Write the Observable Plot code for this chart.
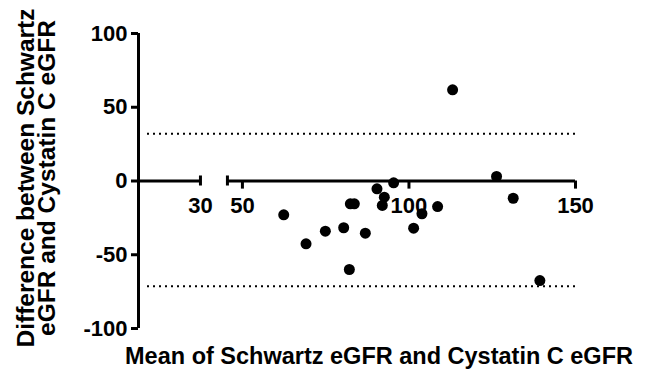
<!DOCTYPE html>
<html><head><meta charset="utf-8">
<script src="https://cdn.jsdelivr.net/npm/d3@7"></script>
<script src="https://cdn.jsdelivr.net/npm/@observablehq/plot@0.6"></script>
<style>body{margin:0;background:#fff}</style>
</head><body><div id="chart"></div>
<script>
const meanValues = [62.4, 69.1, 74.9, 80.4, 82.4, 83.6, 82.1, 86.9, 90.4, 92.6, 92.0, 95.4, 101.4, 103.9, 108.6, 113.1, 126.3, 131.3, 139.3];
const diffValues = [-22.9, -42.6, -34.0, -31.7, -15.5, -15.5, -60.0, -35.4, -5.3, -11.0, -16.6, -1.2, -32.0, -22.2, -17.3, 61.8, 3.1, -11.7, -67.5];
const limitsOfAgreement = [32.0, -71.3];
const yTicks = [-100, -50, 0, 50, 100];
const xTicks = [30, 50, 100, 150];
const xSegments = [[0, 30], [45.5, 150]];
const xTitle = "Mean of Schwartz eGFR and Cystatin C eGFR";
const yTitle = "Difference between Schwartz\neGFR and Cystatin C eGFR";

// broken x axis: the left segment [0, 30] is compressed into a short stub
const leftStart = 18.8, leftEnd = 37.4;
const brokenX = v => v <= 30 ? leftStart + v * (leftEnd - leftStart) / 30 : v;

const points = meanValues.map((m, i) => ({mean: m, diff: diffValues[i]}));
const segments = xSegments.map(([a, b]) => ({x1: a, x2: b}));
const caps = [xSegments[0][1], xSegments[1][0]];

const chart = Plot.plot({
  width: 661, height: 378,
  marginLeft: 138, marginRight: 86, marginTop: 33, marginBottom: 50,
  style: {fontFamily: "'Liberation Sans', Arial, sans-serif", fontWeight: "bold", color: "black", background: "white"},
  x: {axis: null, transform: brokenX, domain: [leftStart, 150]},
  y: {domain: [-100, 100]},
  marks: [
    Plot.ruleY(limitsOfAgreement, {x1: 0, x2: 150, insetLeft: 9, stroke: "black", strokeWidth: 2, strokeDasharray: "2,4"}),
    Plot.ruleX([0], {y1: -100, y2: 100, strokeWidth: 3}),
    Plot.axisY({ticks: yTicks, tickSize: 7, tickPadding: 4, fontSize: 22, strokeWidth: 3, label: null, tickFormat: d => String(d)}),
    Plot.ruleY(segments, {y: 0, x1: "x1", x2: "x2", strokeWidth: 3}),
    Plot.ruleX(caps, {y1: -3.4, y2: 3.4, strokeWidth: 3}),
    Plot.ruleX(xTicks.slice(1), {y1: 0, y2: -5.5, strokeWidth: 3}),
    Plot.text(xTicks, {x: d => d, y: 0, dy: 25, fontSize: 22, text: d => String(d)}),
    Plot.dot(points, {x: "mean", y: "diff", r: 5.5, fill: "black"}),
    Plot.text([xTitle], {frameAnchor: "bottom", textAnchor: "middle", dy: 35, dx: 22, fontSize: 23.5}),
    Plot.text([yTitle], {frameAnchor: "left", textAnchor: "middle", rotate: -90, dx: -101, dy: -3, fontSize: 24.5, lineHeight: 0.85})
  ]
});
document.getElementById("chart").appendChild(chart);
</script>
</body></html>
